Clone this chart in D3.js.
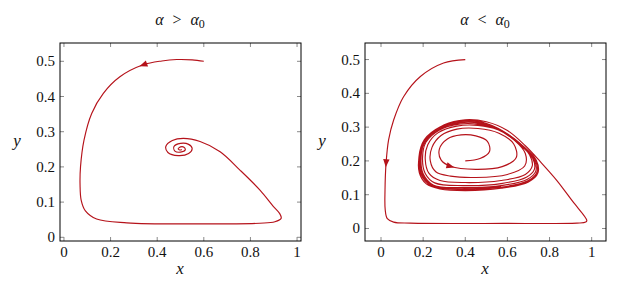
<!DOCTYPE html>
<html>
<head>
<meta charset="utf-8">
<script src="https://cdn.jsdelivr.net/npm/d3@7"></script>
<style>
  body { margin: 0; background: #fff; }
</style>
</head>
<body>
<div id="chart"></div>
<script>
// ticks shared by both panels
var xTicks = [0, 0.2, 0.4, 0.6, 0.8, 1];
var yTicks = [0, 0.1, 0.2, 0.3, 0.4, 0.5];
var titles = ["α\u2002>\u2002α", "α\u2002<\u2002α"];

// left panel: one trajectory, spirals in to (0.5, 0.25)
var leftPath = [
  [0.600,0.500],[0.55,0.504],[0.484,0.505],[0.42,0.501],[0.34,0.490],[0.24,0.456],
  [0.169,0.409],[0.119,0.352],[0.086,0.276],[0.071,0.20],[0.069,0.15],[0.074,0.105],
  [0.092,0.075],[0.14,0.052],[0.27,0.041],[0.555,0.038],[0.84,0.040],[0.905,0.044],
  [0.932,0.054],[0.925,0.068],[0.898,0.088],[0.841,0.134],[0.755,0.191],[0.67,0.243],
  [0.584,0.272],[0.512,0.281],[0.465,0.275],[0.437,0.258],[0.446,0.241],[0.49,0.232],
  [0.535,0.238],[0.55,0.252],[0.535,0.264],[0.50,0.267],[0.472,0.258],[0.476,0.245],
  [0.50,0.242],[0.52,0.248],[0.515,0.256],[0.50,0.257],[0.49,0.251],[0.50,0.248],[0.505,0.25]
];
var leftArrows = [[0.34,0.490]];

// right panel: trajectory from outside the limit cycle
var rightOuter = [
  [0.40,0.500],[0.297,0.49],[0.187,0.45],[0.107,0.39],[0.06,0.321],[0.036,0.262],
  [0.024,0.193],[0.019,0.114],[0.02,0.055],[0.03,0.029],[0.06,0.019],[0.139,0.016],
  [0.58,0.015],[0.93,0.016],[0.972,0.019],[0.977,0.024],[0.91,0.08],[0.835,0.142],
  [0.756,0.198],[0.685,0.245],[0.6,0.29],[0.5,0.316],[0.40,0.322],[0.3,0.307],
  [0.225,0.27],[0.183,0.215],[0.182,0.165],[0.215,0.132],[0.28,0.117],[0.4,0.112],
  [0.57,0.119],[0.7,0.138],[0.745,0.165],[0.737,0.202],[0.672,0.245],[0.58,0.288],
  [0.478,0.315],[0.38,0.319],[0.282,0.301],[0.206,0.263],[0.18,0.211],[0.188,0.163],
  [0.238,0.127],[0.385,0.115],[0.57,0.122],[0.697,0.141],[0.74,0.167],[0.73,0.204],
  [0.667,0.245],[0.577,0.288],[0.476,0.314],[0.378,0.317],[0.28,0.299],[0.206,0.262],
  [0.183,0.21],[0.192,0.163],[0.242,0.127],[0.385,0.117],[0.57,0.124]
];
// right panel: trajectory from inside, spirals out
var rightInner = [
  [0.40,0.200],[0.47,0.207],[0.515,0.228],[0.505,0.258],[0.45,0.274],[0.38,0.277],
  [0.315,0.265],[0.277,0.235],[0.285,0.203],[0.33,0.184],
  [0.45,0.175],[0.575,0.183],[0.642,0.21],[0.63,0.25],[0.56,0.282],[0.46,0.296],
  [0.36,0.294],[0.285,0.275],[0.242,0.24],[0.234,0.2],[0.26,0.168],[0.33,0.155],
  [0.45,0.151],[0.6,0.16],[0.682,0.185],[0.685,0.222],[0.635,0.26],[0.555,0.292],
  [0.46,0.305],[0.36,0.303],[0.27,0.283],[0.222,0.248],[0.21,0.205],[0.228,0.163],[0.28,0.142],
  [0.40,0.136],[0.57,0.142],[0.685,0.16],[0.718,0.185],[0.705,0.218],[0.65,0.256],
  [0.565,0.29],[0.468,0.308],[0.37,0.309],[0.276,0.291],[0.213,0.255],[0.197,0.208],
  [0.21,0.163],[0.255,0.135],
  [0.39,0.127],[0.57,0.133],[0.69,0.152],[0.728,0.175],[0.72,0.208],[0.66,0.248],
  [0.572,0.288],[0.472,0.311],[0.375,0.313],[0.278,0.295],[0.208,0.258],[0.19,0.208],
  [0.2,0.162],[0.25,0.128],
  [0.385,0.121],[0.57,0.127],[0.695,0.146],[0.735,0.17],[0.726,0.205],[0.664,0.246],
  [0.575,0.288],[0.474,0.313],[0.377,0.315],[0.28,0.297],[0.207,0.26],[0.186,0.209],
  [0.195,0.163],[0.245,0.127],[0.384,0.119],[0.57,0.125]
];
var rightArrows = [[0.024,0.193],[0.33,0.184]];

var width = 636, height = 284;
var red = "#b5121a";
var serif = "Liberation Serif";

var svg = d3.select("#chart").append("svg")
  .attr("width", width)
  .attr("height", height);

var panels = [
  { left: 60, right: 301, top: 43, bottom: 241, xd: [-0.017, 1.017], yd: [-0.0105, 0.552],
    title: titles[0], tx: 180, lx: 180, ly: 17, paths: [leftPath], arrows: leftArrows },
  { left: 365, right: 606, top: 43, bottom: 241, xd: [-0.076, 1.068], yd: [-0.037, 0.549],
    title: titles[1], tx: 485, lx: 485, ly: 322, paths: [rightOuter, rightInner], arrows: rightArrows }
];

panels.forEach(function(p) {
  var x = d3.scaleLinear().domain(p.xd).range([p.left, p.right]);
  var y = d3.scaleLinear().domain(p.yd).range([p.bottom, p.top]);
  var g = svg.append("g");

  // ticks on all four sides, pointing in
  var tl = 4;
  g.selectAll(".xt").data(xTicks).enter().append("path")
    .attr("d", function(d) {
      return "M" + x(d) + "," + p.bottom + "v" + (-tl) + "M" + x(d) + "," + p.top + "v" + tl;
    })
    .attr("stroke", "#8a8a8a").attr("stroke-width", 1);
  g.selectAll(".yt").data(yTicks).enter().append("path")
    .attr("d", function(d) {
      return "M" + p.left + "," + y(d) + "h" + tl + "M" + p.right + "," + y(d) + "h" + (-tl);
    })
    .attr("stroke", "#8a8a8a").attr("stroke-width", 1);

  g.selectAll(".xl").data(xTicks).enter().append("text")
    .attr("x", function(d) { return x(d); })
    .attr("y", p.bottom + 16)
    .attr("text-anchor", "middle")
    .attr("font-family", serif)
    .attr("font-size", "15px")
    .attr("fill", "#111")
    .text(function(d) { return d3.format("")(d); });
  g.selectAll(".yl").data(yTicks).enter().append("text")
    .attr("x", p.left - 5)
    .attr("y", function(d) { return y(d) + 5; })
    .attr("text-anchor", "end")
    .attr("font-family", serif)
    .attr("font-size", "15px")
    .attr("fill", "#111")
    .text(function(d) { return d3.format("")(d); });

  // trajectories
  var line = d3.line()
    .x(function(d) { return x(d[0]); })
    .y(function(d) { return y(d[1]); })
    .curve(d3.curveCatmullRom.alpha(0.5));
  p.paths.forEach(function(pts) {
    g.append("path")
      .attr("d", line(pts))
      .attr("fill", "none")
      .attr("stroke", red)
      .attr("stroke-width", 1.15);
  });

  // arrow heads, direction taken from the neighbouring points of the path
  p.arrows.forEach(function(a) {
    var best = null;
    p.paths.forEach(function(pts) {
      pts.forEach(function(q, i) {
        var dd = Math.hypot(q[0] - a[0], q[1] - a[1]);
        if (!best || dd < best.d) best = { d: dd, pts: pts, i: i };
      });
    });
    var pts = best.pts, i = best.i;
    var p0 = pts[Math.max(0, i - 1)], p1 = pts[Math.min(pts.length - 1, i + 1)];
    var ang = Math.atan2(y(p1[1]) - y(p0[1]), x(p1[0]) - x(p0[0])) * 180 / Math.PI;
    g.append("path")
      .attr("d", "M4,0L-4,-3.2L-4,3.2Z")
      .attr("fill", red)
      .attr("transform", "translate(" + x(a[0]) + "," + y(a[1]) + ") rotate(" + ang + ")");
  });

  // frame
  g.append("rect")
    .attr("x", p.left).attr("y", p.top)
    .attr("width", p.right - p.left).attr("height", p.bottom - p.top)
    .attr("fill", "none").attr("stroke", "#000").attr("stroke-width", 1);

  // title and axis labels
  var t = g.append("text")
    .attr("x", p.tx).attr("y", 25)
    .attr("text-anchor", "middle")
    .attr("font-family", serif)
    .attr("font-size", "16px")
    .attr("fill", "#111")
    .attr("font-style", "italic");
  t.append("tspan").text(p.title);
  t.append("tspan").attr("font-style", "normal").attr("font-size", "12px").attr("dy", 3).text("0");

  g.append("text")
    .attr("x", p.lx).attr("y", 274)
    .attr("text-anchor", "middle")
    .attr("font-family", serif)
    .attr("font-size", "17px")
    .attr("font-style", "italic")
    .attr("fill", "#111")
    .text("x");
  g.append("text")
    .attr("x", p.ly).attr("y", 146)
    .attr("text-anchor", "middle")
    .attr("font-family", serif)
    .attr("font-size", "17px")
    .attr("font-style", "italic")
    .attr("fill", "#111")
    .text("y");
});
</script>
</body>
</html>
